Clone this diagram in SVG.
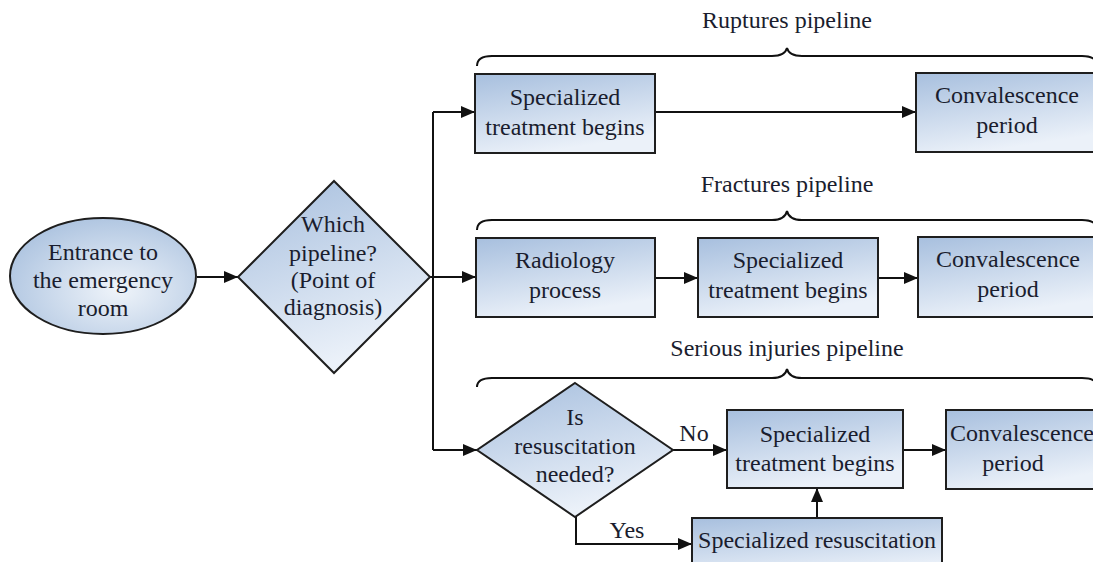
<svg xmlns="http://www.w3.org/2000/svg" width="1093" height="562" viewBox="0 0 1093 562">
  <style>
    .shape { fill: url(#fillGrad); stroke: #1e1e1e; stroke-width: 2; }
    .lbl { font-family: "Liberation Serif", "Times New Roman", serif; font-size: 24px; fill: #1a1d2e; text-anchor: middle; }
    .conn { fill: none; stroke: #111; stroke-width: 2; }
    .brace { fill: none; stroke: #111; stroke-width: 2; }
  </style>
  <defs>
    <linearGradient id="fillGrad" x1="0" y1="0" x2="0.35" y2="1">
      <stop offset="0" stop-color="#a7bfde"/>
      <stop offset="1" stop-color="#ebf1f9"/>
    </linearGradient>
    <radialGradient id="ovalGrad" cx="0.58" cy="0.62" r="0.68">
      <stop offset="0" stop-color="#eff4fa"/>
      <stop offset="1" stop-color="#abc2df"/>
    </radialGradient>
    <marker id="arrow" markerUnits="userSpaceOnUse" markerWidth="15" markerHeight="12" refX="14" refY="6" orient="auto">
      <path d="M0,0 L14,6 L0,12 z" fill="#111"/>
    </marker>
  </defs>
  <rect width="1093" height="562" fill="#ffffff"/>

  <!-- pipeline braces and titles -->
  <g id="pipeline-labels">
    <text class="lbl" x="787" y="28">Ruptures pipeline</text>
    <path class="brace" d="M477,66 Q477,56 492,56 L772,56 Q785,56 787,48 Q789,56 802,56 L1082,56 Q1097,56 1097,66"/>
    <text class="lbl" x="787" y="192">Fractures pipeline</text>
    <path class="brace" d="M477,230 Q477,220 492,220 L772,220 Q785,220 787,211 Q789,220 802,220 L1082,220 Q1097,220 1097,230"/>
    <text class="lbl" x="787" y="356">Serious injuries pipeline</text>
    <path class="brace" d="M477,387 Q477,378 492,378 L772,378 Q785,378 787,369 Q789,378 802,378 L1082,378 Q1097,378 1097,387"/>
  </g>

  <!-- connectors -->
  <g id="connectors">
    <line class="conn" x1="197" y1="277" x2="238" y2="277" marker-end="url(#arrow)"/>
    <line class="conn" x1="433" y1="112" x2="433" y2="450"/>
    <line class="conn" x1="433" y1="112" x2="475" y2="112" marker-end="url(#arrow)"/>
    <line class="conn" x1="430" y1="277" x2="476" y2="277" marker-end="url(#arrow)"/>
    <line class="conn" x1="433" y1="450" x2="477" y2="450" marker-end="url(#arrow)"/>
    <line class="conn" x1="655" y1="112" x2="916" y2="112" marker-end="url(#arrow)"/>
    <line class="conn" x1="655" y1="278" x2="698" y2="278" marker-end="url(#arrow)"/>
    <line class="conn" x1="878" y1="278" x2="918" y2="278" marker-end="url(#arrow)"/>
    <line class="conn" x1="673" y1="450" x2="727" y2="450" marker-end="url(#arrow)"/>
    <line class="conn" x1="903" y1="450" x2="946" y2="450" marker-end="url(#arrow)"/>
    <path class="conn" d="M576,517 V544 H692" marker-end="url(#arrow)"/>
    <line class="conn" x1="817" y1="518" x2="817" y2="488" marker-end="url(#arrow)"/>
    <text class="lbl" x="694" y="441">No</text>
    <text class="lbl" x="627" y="538">Yes</text>
  </g>

  <g id="entrance">
    <ellipse cx="103" cy="276" rx="93" ry="58" fill="url(#ovalGrad)" stroke="#1e1e1e" stroke-width="2"/>
    <text class="lbl" x="103" y="260">Entrance to</text>
    <text class="lbl" x="103" y="288">the emergency</text>
    <text class="lbl" x="103" y="316">room</text>
  </g>

  <g id="which-pipeline">
    <polygon class="shape" points="334,181 430,277 334,373 238,277"/>
    <text class="lbl" x="333" y="232">Which</text>
    <text class="lbl" x="333" y="261">pipeline?</text>
    <text class="lbl" x="333" y="288">(Point of</text>
    <text class="lbl" x="333" y="315">diagnosis)</text>
  </g>

  <g id="ruptures-treatment">
    <rect class="shape" x="475" y="74" width="180" height="79"/>
    <text class="lbl" x="565" y="105">Specialized</text>
    <text class="lbl" x="565" y="135">treatment begins</text>
  </g>

  <g id="ruptures-convalescence">
    <rect class="shape" x="916" y="73" width="184" height="79"/>
    <text class="lbl" x="1007" y="103">Convalescence</text>
    <text class="lbl" x="1007" y="133">period</text>
  </g>

  <g id="fractures-radiology">
    <rect class="shape" x="476" y="238" width="179" height="79"/>
    <text class="lbl" x="565" y="268">Radiology</text>
    <text class="lbl" x="565" y="298">process</text>
  </g>

  <g id="fractures-treatment">
    <rect class="shape" x="698" y="238" width="180" height="79"/>
    <text class="lbl" x="788" y="268">Specialized</text>
    <text class="lbl" x="788" y="298">treatment begins</text>
  </g>

  <g id="fractures-convalescence">
    <rect class="shape" x="918" y="237" width="184" height="80"/>
    <text class="lbl" x="1008" y="267">Convalescence</text>
    <text class="lbl" x="1008" y="297">period</text>
  </g>

  <g id="resuscitation-decision">
    <polygon class="shape" points="575,383 673,450 575,517 477,450"/>
    <text class="lbl" x="575" y="425">Is</text>
    <text class="lbl" x="575" y="454">resuscitation</text>
    <text class="lbl" x="575" y="482">needed?</text>
  </g>

  <g id="injuries-treatment">
    <rect class="shape" x="727" y="410" width="176" height="78"/>
    <text class="lbl" x="815" y="442">Specialized</text>
    <text class="lbl" x="815" y="471">treatment begins</text>
  </g>

  <g id="injuries-convalescence">
    <rect class="shape" x="946" y="410" width="160" height="79"/>
    <text class="lbl" x="1022" y="441">Convalescence</text>
    <text class="lbl" x="1013" y="471">period</text>
  </g>

  <g id="specialized-resuscitation">
    <rect class="shape" x="692" y="518" width="250" height="60"/>
    <text class="lbl" x="817" y="548">Specialized resuscitation</text>
  </g>
</svg>
